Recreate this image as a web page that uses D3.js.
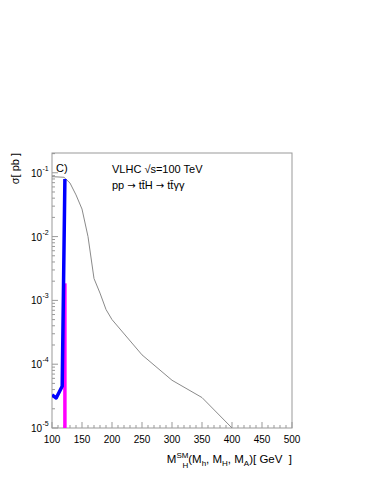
<!DOCTYPE html>
<html>
<head>
<meta charset="utf-8">
<script src="https://cdn.jsdelivr.net/npm/d3@7"></script>
<style>
  body { margin: 0; background: white; }
  text { font-family: "Liberation Sans", Arial, sans-serif; fill: #000; white-space: pre; }
</style>
</head>
<body>
<svg id="chart" width="371" height="480"></svg>
<script>
// data
var sm_mass = [100, 120, 130, 140, 150, 160, 170, 180, 190, 200, 250, 300, 350, 400];
var sm_xsec = [0.087, 0.085, 0.069, 0.045, 0.027, 0.010, 0.0022, 0.0013, 0.00072, 0.00050, 0.00014, 0.000056, 0.000030, 0.0000100];

var h_mass = [100, 107, 117, 121.5];
var h_xsec = [0.0000330, 0.0000295, 0.0000450, 0.080];

var A_mass = [121.5, 121.5];
var A_xsec = [0.0000100, 0.00185];

var x_ticks = [100, 150, 200, 250, 300, 350, 400, 450, 500];
var y_decades = [-5, -4, -3, -2, -1];

// layout
var frame_left = 52, frame_right = 292, frame_top = 153, frame_bottom = 428;

var svg = d3.select("#chart");

var x = d3.scaleLinear().domain([100, 500]).range([frame_left, frame_right]);
var y = d3.scaleLog().domain([1e-5, Math.pow(10, -0.69)]).range([frame_bottom, frame_top]);

svg.append("defs").append("clipPath").attr("id", "clipframe")
    .append("rect").attr("x", frame_left).attr("y", frame_top)
    .attr("width", frame_right - frame_left).attr("height", frame_bottom - frame_top);

//frame
svg.append("rect").attr("x", frame_left).attr("y", frame_top)
    .attr("width", frame_right - frame_left).attr("height", frame_bottom - frame_top)
    .style("fill", "none").style("stroke", "#999").style("stroke-width", "1px");

//x ticks (inside, pointing up)
var x_minor = d3.range(100, 501, 10);
svg.selectAll(".xminor").data(x_minor).enter().append("line").classed("xminor", true)
    .attr("x1", d => x(d)).attr("x2", d => x(d))
    .attr("y1", frame_bottom).attr("y2", d => frame_bottom - (d % 50 == 0 ? 6 : 3))
    .style("stroke", "#999").style("stroke-width", "1px");

svg.selectAll(".xlabel").data(x_ticks).enter().append("text").classed("xlabel", true)
    .attr("x", d => x(d)).attr("y", 443).attr("text-anchor", "middle")
    .style("font-size", "10px").text(d => d);

//y ticks, log minor
var y_minor = [];
y_decades.forEach(function (e) {
    for (var k = 1; k <= 9; k++) y_minor.push({ v: k * Math.pow(10, e), major: k == 1 });
});
y_minor.push({ v: 0.2 * 1, major: false });
y_minor = y_minor.filter(t => t.v <= y.domain()[1]);

svg.selectAll(".yminor").data(y_minor).enter().append("line").classed("yminor", true)
    .attr("x1", frame_left).attr("x2", t => frame_left + (t.major ? 6 : 3))
    .attr("y1", t => y(t.v)).attr("y2", t => y(t.v))
    .style("stroke", "#999").style("stroke-width", "1px");

var ylab = svg.selectAll(".ylabel").data(y_decades).enter().append("g").classed("ylabel", true);
ylab.append("text").attr("x", 42).attr("y", e => y(Math.pow(10, e)) + 4)
    .attr("text-anchor", "end").style("font-size", "10px").text("10");
ylab.append("text").attr("x", 42.5).attr("y", e => y(Math.pow(10, e)) - 2)
    .style("font-size", "7px").text(e => "-" + Math.abs(e));

//curves
var line = d3.line().x(d => x(d[0])).y(d => y(d[1]));

var plot = svg.append("g").attr("clip-path", "url(#clipframe)");

plot.append("path").datum(d3.zip(sm_mass, sm_xsec)).attr("d", line)
    .style("fill", "none").style("stroke", "#8a8a8a").style("stroke-width", "1px");

plot.append("path").datum(d3.zip(A_mass, A_xsec)).attr("d", line)
    .style("fill", "none").style("stroke", "#ff00ff").style("stroke-width", "3.5px");

plot.append("path").datum(d3.zip(h_mass, h_xsec)).attr("d", line)
    .style("fill", "none").style("stroke", "#0000ff").style("stroke-width", "3.5px")
    .style("stroke-linejoin", "round");

//texts
svg.append("text").attr("x", 56).attr("y", 172).style("font-size", "11px").text("C)");

svg.append("text").attr("x", 112).attr("y", 173).style("font-size", "11px").text("VLHC \u221As=100 TeV");
var proc = svg.append("text").attr("x", 112).attr("y", 189).style("font-size", "11px");
proc.append("tspan").text("pp ");
proc.append("tspan").style("font-family", "DejaVu Sans").style("font-size", "10px").text("\u2192");
proc.append("tspan").text(" tt\u0304H ");
proc.append("tspan").style("font-family", "DejaVu Sans").style("font-size", "10px").text("\u2192");
proc.append("tspan").text(" tt\u0304\u03B3\u03B3");

//axis titles
svg.append("text").attr("transform", "translate(18.5," + frame_top + ") rotate(-90)")
    .attr("text-anchor", "end").style("font-size", "11px").text("\u03C3[ pb ]");

var xt = svg.append("text").attr("x", frame_right).attr("y", 463).attr("text-anchor", "end")
    .style("font-size", "11.5px");
xt.append("tspan").text("M");
xt.append("tspan").attr("dy", -5).style("font-size", "8px").text("SM");
xt.append("tspan").attr("dx", -6).attr("dy", 10).style("font-size", "8px").text("H");
xt.append("tspan").attr("dy", -5).text("(M");
xt.append("tspan").attr("dy", 3).style("font-size", "8px").text("h");
xt.append("tspan").attr("dy", -3).text(", M");
xt.append("tspan").attr("dy", 3).style("font-size", "8px").text("H");
xt.append("tspan").attr("dy", -3).text(", M");
xt.append("tspan").attr("dy", 3).style("font-size", "8px").text("A");
xt.append("tspan").attr("dy", -3).text(")[ GeV  ]");
</script>
</body>
</html>
